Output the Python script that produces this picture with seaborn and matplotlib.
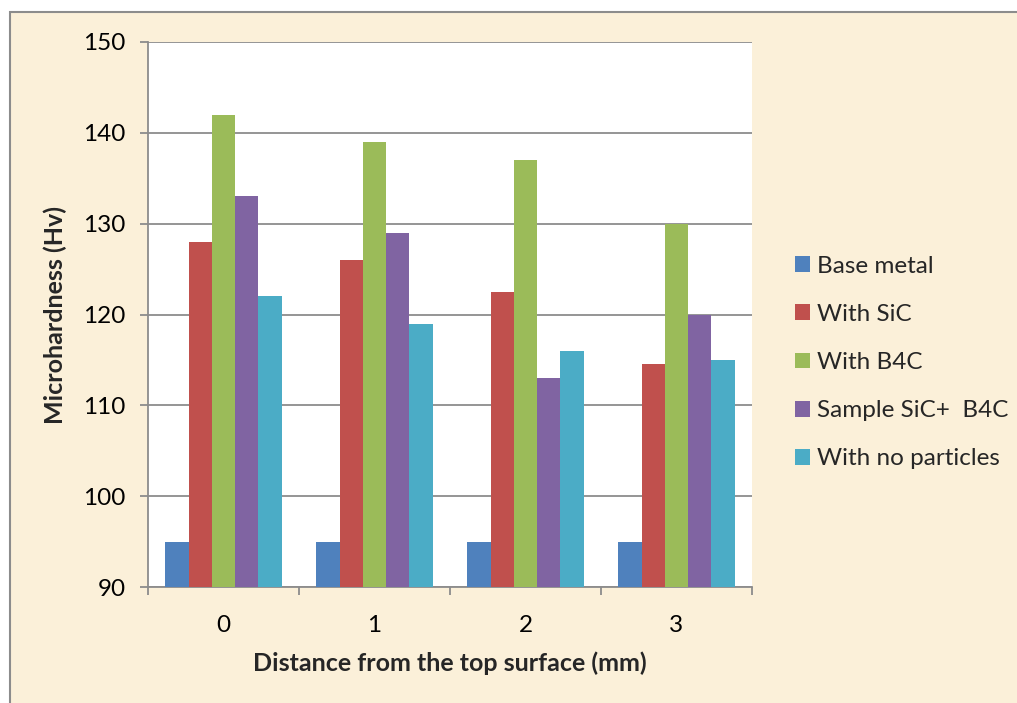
import matplotlib
matplotlib.use("Agg")
import matplotlib.pyplot as plt
from matplotlib.patches import Rectangle, Patch
import seaborn as sns
import pandas as pd

# ---- data ----
distances = ["0", "1", "2", "3"]
series_names = ["Base metal", "With SiC", "With B4C", "Sample SiC+  B4C", "With no particles"]
base_metal = [95, 95, 95, 95]
with_sic = [128, 126, 122.5, 114.5]
with_b4c = [142, 139, 137, 130]
sample_sic_b4c = [133, 129, 113, 120]
with_no_particles = [122, 119, 116, 115]
colors = ["#4F81BD", "#C0504D", "#9BBB59", "#8064A2", "#4BACC6"]

values = [base_metal, with_sic, with_b4c, sample_sic_b4c, with_no_particles]
rows = []
for name, vals in zip(series_names, values):
    for d, v in zip(distances, vals):
        rows.append({"Distance": d, "Series": name, "Value": v})
df = pd.DataFrame(rows)

sns.set_theme(style="white")
plt.rcParams["font.family"] = ["Lato", "DejaVu Sans"]

fig = plt.figure(figsize=(10.17, 7.03), dpi=100)
fig.patch.set_facecolor("white")
bg = Rectangle((10 / 1017, -0.05), 1.1, 1 - 12 / 703 + 0.05, transform=fig.transFigure,
               facecolor="#FBF0D9", edgecolor="#8C8C8C", linewidth=1.5, zorder=-5)
fig.patches.append(bg)

ax = fig.add_axes([148 / 1017, 1 - 587 / 703, (752 - 148) / 1017, 545 / 703])
ax.set_zorder(2)
ax.set_facecolor("white")

sns.barplot(data=df, x="Distance", y="Value", hue="Series", hue_order=series_names,
            palette=colors, saturation=1, width=0.77, gap=0, ax=ax, legend=False,
            edgecolor="none", linewidth=0, zorder=3)

ax.set_ylim(90, 150)
ax.set_yticks(range(90, 151, 10))
ax.set_xlim(-0.5, 3.5)
ax.yaxis.grid(True, color="#8C8C8C", linewidth=1.3, zorder=1)
ax.set_axisbelow(True)

for s in ["top", "right"]:
    ax.spines[s].set_visible(False)
for s in ["left", "bottom"]:
    ax.spines[s].set_color("#8C8C8C")
    ax.spines[s].set_linewidth(1.3)

ax.tick_params(axis="y", which="major", left=True, length=6, width=1.3, color="#8C8C8C",
               labelsize=17.5, pad=10, labelcolor="black")
ax.set_xticks([0, 1, 2, 3])
ax.set_xticks([-0.5, 0.5, 1.5, 2.5, 3.5], minor=True)
ax.tick_params(axis="x", which="major", length=0, labelsize=17.5, pad=20, labelcolor="black")
ax.tick_params(axis="x", which="minor", bottom=True, length=6, width=1.3, color="#8C8C8C")

ax.set_xlabel("Distance from the top surface (mm)", fontsize=18, fontweight="bold", labelpad=11)
ax.set_ylabel("Microhardness (Hv)", fontsize=18, fontweight="bold", labelpad=12)

handles = [Patch(facecolor=c, edgecolor="none") for c in colors]
leg = ax.legend(handles, series_names, loc="center left", bbox_to_anchor=(1.071, 0.412),
                frameon=False, fontsize=17.5, handlelength=0.62, handleheight=0.62,
                handletextpad=0.3, labelspacing=1.12, borderpad=0, borderaxespad=0)

fig.savefig("out.png", dpi=100)
